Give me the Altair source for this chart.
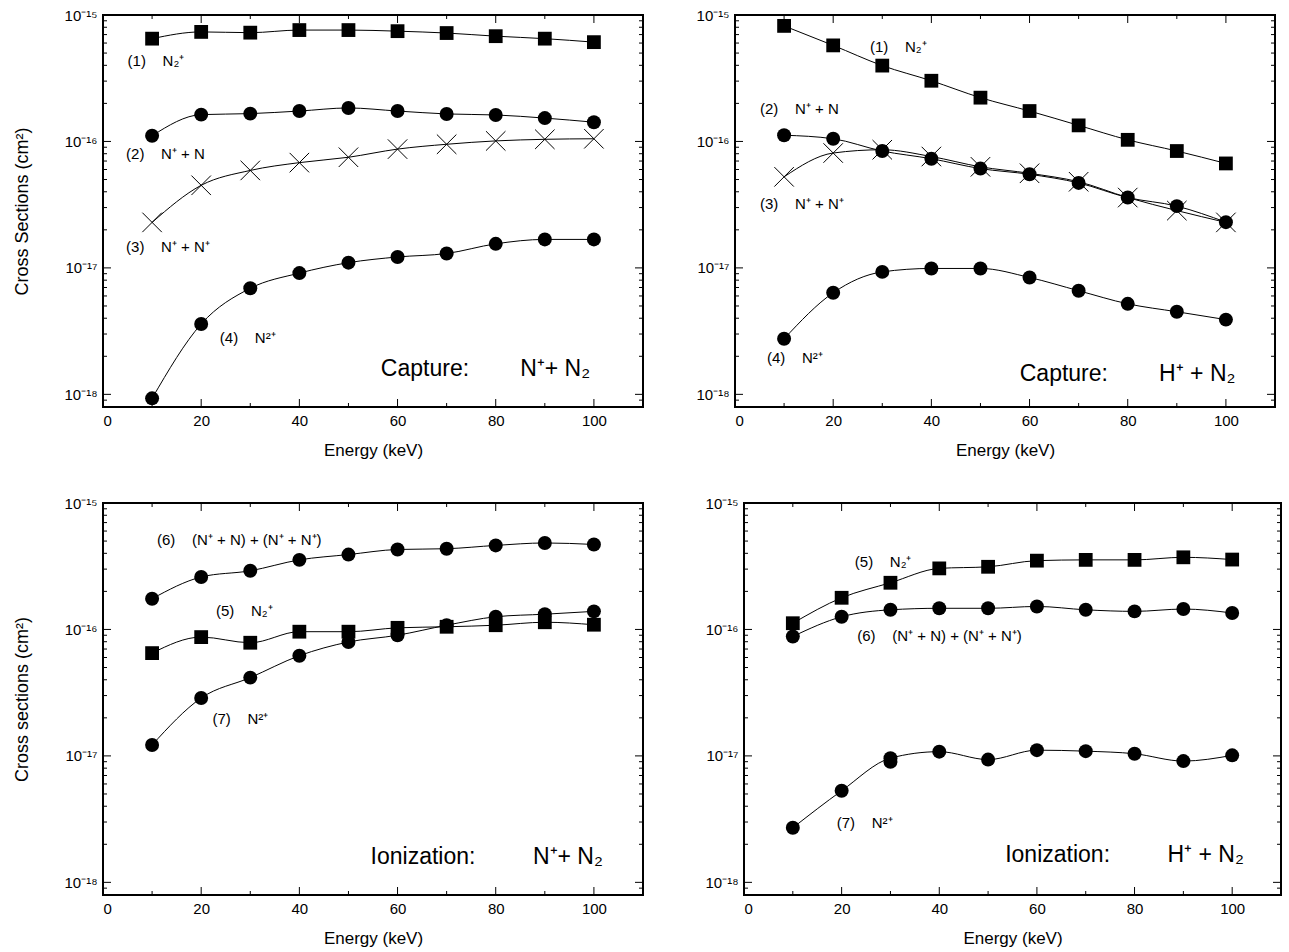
import altair as alt
import pandas as pd

FONT = "Liberation Sans"
SP = "\u00a0"  # non-breaking space (keeps the wide gaps of the original labels)

# ---------------- data ----------------
energy = [10, 20, 30, 40, 50, 60, 70, 80, 90, 100]

# Capture: N+ + N2
capN_n2p = [6.5e-16, 7.35e-16, 7.25e-16, 7.6e-16, 7.6e-16, 7.45e-16, 7.2e-16, 6.8e-16, 6.5e-16, 6.1e-16]
capN_npn = [1.11e-16, 1.63e-16, 1.66e-16, 1.74e-16, 1.84e-16, 1.74e-16, 1.65e-16, 1.62e-16, 1.53e-16, 1.42e-16]
capN_npnp = [2.29e-17, 4.5e-17, 5.9e-17, 6.8e-17, 7.5e-17, 8.7e-17, 9.5e-17, 1.01e-16, 1.04e-16, 1.05e-16]
capN_n2pp = [9.3e-19, 3.6e-18, 6.9e-18, 9.1e-18, 1.1e-17, 1.22e-17, 1.3e-17, 1.55e-17, 1.68e-17, 1.68e-17]

# Capture: H+ + N2
capH_n2p = [8.2e-16, 5.75e-16, 3.98e-16, 3.02e-16, 2.22e-16, 1.74e-16, 1.34e-16, 1.03e-16, 8.4e-17, 6.7e-17]
capH_npn = [1.12e-16, 1.05e-16, 8.4e-17, 7.3e-17, 6.1e-17, 5.5e-17, 4.7e-17, 3.6e-17, 3.08e-17, 2.3e-17]
capH_npnp = [5.25e-17, 8.1e-17, 8.6e-17, 7.6e-17, 6.3e-17, 5.6e-17, 4.8e-17, 3.6e-17, 2.84e-17, 2.29e-17]
capH_n2pp = [2.75e-18, 6.36e-18, 9.3e-18, 9.9e-18, 9.9e-18, 8.4e-18, 6.6e-18, 5.2e-18, 4.5e-18, 3.9e-18]

# Ionization: N+ + N2
ionN_sum = [1.75e-16, 2.6e-16, 2.91e-16, 3.55e-16, 3.91e-16, 4.29e-16, 4.35e-16, 4.62e-16, 4.83e-16, 4.7e-16]
ionN_n2p = [6.5e-17, 8.7e-17, 7.85e-17, 9.6e-17, 9.6e-17, 1.03e-16, 1.05e-16, 1.08e-16, 1.14e-16, 1.09e-16]
ionN_n2pp = [1.22e-17, 2.87e-17, 4.16e-17, 6.2e-17, 7.96e-17, 9.0e-17, 1.08e-16, 1.26e-16, 1.32e-16, 1.39e-16]

# Ionization: H+ + N2
ionH_n2p = [1.12e-16, 1.78e-16, 2.34e-16, 3.04e-16, 3.13e-16, 3.5e-16, 3.55e-16, 3.55e-16, 3.72e-16, 3.57e-16]
ionH_sum = [8.8e-17, 1.26e-16, 1.43e-16, 1.47e-16, 1.47e-16, 1.52e-16, 1.43e-16, 1.39e-16, 1.45e-16, 1.35e-16]
ionH_n2pp = [2.7e-18, 5.3e-18, 9.6e-18, 1.08e-17, 9.35e-18, 1.11e-17, 1.09e-17, 1.04e-17, 9.1e-18, 1.01e-17]
ionH_n2pp_extra_e = [30]
ionH_n2pp_extra_v = [9.0e-18]

# axis ticks
x_labels = [0, 20, 40, 60, 80, 100]
x_major = [20, 40, 60, 80, 100]
x_minor = [10, 30, 50, 70, 90]
y_major = [1e-18, 1e-17, 1e-16, 1e-15]
YMIN = 10 ** -18.1
YMAX = 1e-15
y_minor = [k * 10.0 ** e for e in (-19, -18, -17, -16) for k in range(2, 10)
           if YMIN < k * 10.0 ** e < YMAX]

G = SP * 4   # gap after the "(n)" numbers
# annotation labels: (energy, value, text)
capN_labels = [(5.0, 4.3e-16, "(1)" + G + "N₂⁺"), (4.7, 7.9e-17, "(2)" + G + "N⁺ + N"),
               (4.7, 1.45e-17, "(3)" + G + "N⁺ + N⁺"), (23.8, 2.8e-18, "(4)" + G + "N²⁺")]
capN_title = (56.6, 1.6e-18, "Capture:" + SP * 8 + "N⁺+ N₂")

capH_labels = [(27.5, 5.6e-16, "(1)" + G + "N₂⁺"), (5.1, 1.8e-16, "(2)" + G + "N⁺ + N"),
               (5.1, 3.2e-17, "(3)" + G + "N⁺ + N⁺"), (6.5, 1.95e-18, "(4)" + G + "N²⁺")]
capH_title = (58.0, 1.45e-18, "Capture:" + SP * 8 + "H⁺ + N₂")

ionN_labels = [(11.0, 5.1e-16, "(6)" + G + "(N⁺ + N) + (N⁺ + N⁺)"), (23.0, 1.4e-16, "(5)" + G + "N₂⁺"),
               (22.3, 1.95e-17, "(7)" + G + "N²⁺")]
ionN_title = (54.5, 1.6e-18, "Ionization:" + SP * 9 + "N⁺+ N₂")

ionH_labels = [(22.7, 3.4e-16, "(5)" + G + "N₂⁺"), (23.2, 8.8e-17, "(6)" + G + "(N⁺ + N) + (N⁺ + N⁺)"),
               (19.0, 2.95e-18, "(7)" + G + "N²⁺")]
ionH_title = (53.5, 1.64e-18, "Ionization:" + SP * 9 + "H⁺ + N₂")

H = 392
LABEL_EXPR = ("datum.value > 5e-16 ? '10⁻¹⁵' : datum.value > 5e-17 ? '10⁻¹⁶' : "
              "datum.value > 5e-18 ? '10⁻¹⁷' : '10⁻¹⁸'")

CROSS = "M-1,-1L1,1M-1,1L1,-1"


def panel(series, extra, labels, title, W, ytitle):
    rows = []
    for sid, (vals, marker) in enumerate(series):
        for e, v in zip(energy, vals):
            rows.append({"energy": e, "value": v, "series": sid, "marker": marker})
    df = pd.DataFrame(rows)

    xs = alt.Scale(domain=[0, 110], nice=False, zero=False)
    ys = alt.Scale(type="log", domain=[YMIN, YMAX], nice=False)

    xaxis = alt.Axis(values=x_labels, title="Energy (keV)", labelFontSize=15, grid=False,
                     domain=False, ticks=False, labelPadding=6, titlePadding=14, titleFontSize=17,
                     titleFontWeight="normal", labelFont=FONT, titleFont=FONT,
                     labelColor="black", titleColor="black")
    if ytitle:
        yaxis = alt.Axis(values=y_major, labelExpr=LABEL_EXPR, title=ytitle, grid=False,
                         domain=False, ticks=False, labelFontSize=15, labelPadding=6,
                         titlePadding=32, titleFontSize=18, titleFontWeight="normal",
                         labelFont=FONT, titleFont=FONT, labelColor="black", titleColor="black")
    else:
        yaxis = alt.Axis(values=y_major, labelExpr=LABEL_EXPR, title=None, grid=False,
                         domain=False, ticks=False, labelFontSize=15, labelPadding=6,
                         labelFont=FONT, labelColor="black")

    X = alt.X("energy:Q", scale=xs, axis=xaxis)
    Y = alt.Y("value:Q", scale=ys, axis=yaxis)

    lines = alt.Chart(df).mark_line(color="black", strokeWidth=1, interpolate="monotone").encode(
        x=X, y=Y, detail="series:N")

    layers = [lines]
    base = alt.Chart(df)
    layers.append(base.transform_filter(alt.datum.marker == "square").mark_point(
        shape="square", filled=True, color="black", opacity=1, size=190).encode(x=X, y=Y))
    layers.append(base.transform_filter(alt.datum.marker == "circle").mark_point(
        shape="circle", filled=True, color="black", opacity=1, size=195).encode(x=X, y=Y))
    layers.append(base.transform_filter(alt.datum.marker == "cross").mark_point(
        shape=CROSS, filled=False, color="black", opacity=1, size=380, strokeWidth=1).encode(
        x=X, y=Y))
    if extra is not None:
        edf = pd.DataFrame({"energy": extra[0], "value": extra[1]})
        layers.append(alt.Chart(edf).mark_point(
            shape="circle", filled=True, color="black", opacity=1, size=195).encode(x=X, y=Y))

    ldf = pd.DataFrame(labels, columns=["energy", "value", "text"])
    layers.append(alt.Chart(ldf).mark_text(align="left", baseline="middle", fontSize=15,
                                           font=FONT, color="black").encode(
        x=X, y=Y, text="text:N"))
    tdf = pd.DataFrame([title], columns=["energy", "value", "text"])
    layers.append(alt.Chart(tdf).mark_text(align="left", baseline="middle", fontSize=23,
                                           font=FONT, color="black").encode(
        x=X, y=Y, text="text:N"))

    # inward frame ticks
    ymaj = pd.DataFrame({"value": y_major})
    ymin = pd.DataFrame({"value": y_minor})
    xmaj = pd.DataFrame({"energy": x_major})
    xmin = pd.DataFrame({"energy": x_minor})
    for d, L in ((ymaj, 8), (ymin, 4)):
        layers.append(alt.Chart(d).mark_rule(color="black", strokeWidth=1).encode(
            y=Y, x=alt.value(0), x2=alt.value(L)))
        layers.append(alt.Chart(d).mark_rule(color="black", strokeWidth=1).encode(
            y=Y, x=alt.value(W), x2=alt.value(W - L)))
    for d, L in ((xmaj, 8), (xmin, 4)):
        layers.append(alt.Chart(d).mark_rule(color="black", strokeWidth=1).encode(
            x=X, y=alt.value(H), y2=alt.value(H - L)))
        layers.append(alt.Chart(d).mark_rule(color="black", strokeWidth=1).encode(
            x=X, y=alt.value(0), y2=alt.value(L)))

    return alt.layer(*layers).properties(width=W, height=H)


p1 = panel([(capN_n2p, "square"), (capN_npn, "circle"), (capN_npnp, "cross"), (capN_n2pp, "circle")],
           None, capN_labels, capN_title, 540, "Cross Sections (cm²)")
p2 = panel([(capH_n2p, "square"), (capH_npn, "circle"), (capH_npnp, "cross"), (capH_n2pp, "circle")],
           None, capH_labels, capH_title, 540, None)
p3 = panel([(ionN_sum, "circle"), (ionN_n2p, "square"), (ionN_n2pp, "circle")],
           None, ionN_labels, ionN_title, 540, "Cross sections (cm²)")
p4 = panel([(ionH_n2p, "square"), (ionH_sum, "circle"), (ionH_n2pp, "circle")],
           (ionH_n2pp_extra_e, ionH_n2pp_extra_v), ionH_labels, ionH_title, 537, None)

top = alt.hconcat(p1, p2, spacing=92, bounds="flush")
bottom = alt.hconcat(p3, p4, spacing=101, bounds="flush")
chart = alt.vconcat(top, bottom, spacing=36).properties(
    padding={"left": 12, "top": 7, "right": 0, "bottom": 0}, background="white"
).configure_view(stroke="black", strokeWidth=2)

chart.save("out.html", embed_options={"renderer": "svg", "actions": False})
